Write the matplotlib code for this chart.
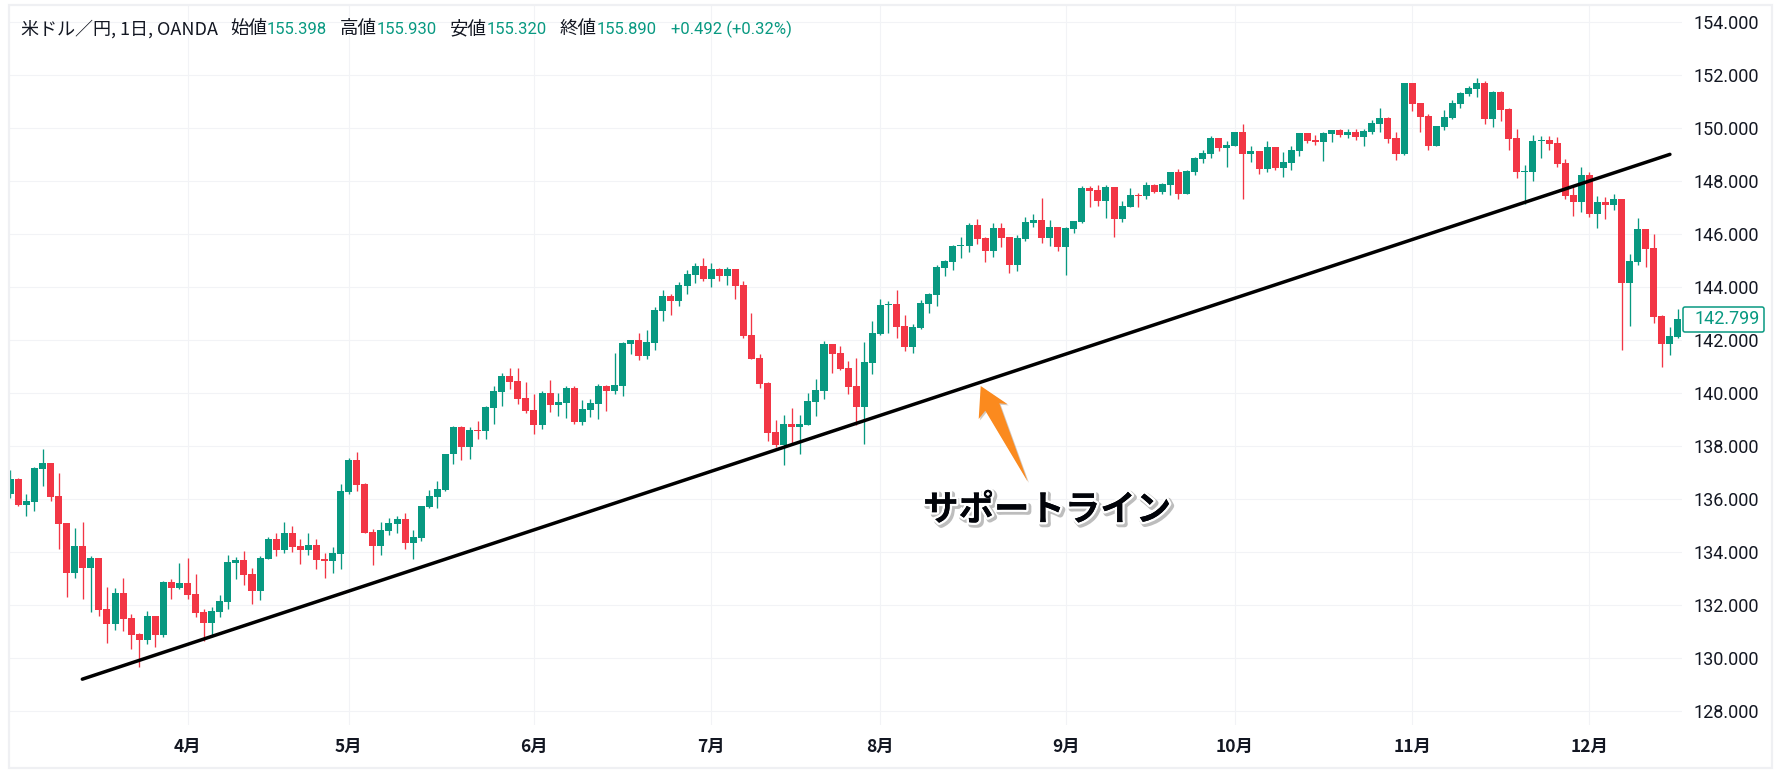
import matplotlib
matplotlib.use('Agg')
import matplotlib.pyplot as plt
import matplotlib.patheffects as pe
from matplotlib.patches import Polygon, Rectangle, FancyBboxPatch

W, H = 1778, 773

# candle values
opens = [136.20, 136.77, 135.79, 135.90, 137.14, 137.37, 136.13, 135.11, 133.22, 134.24,
         133.41, 133.79, 131.86, 131.30, 132.47, 131.52, 130.92, 130.69, 131.60, 130.88,
         132.88, 132.65, 132.84, 132.43, 131.75, 131.33, 131.75, 132.13, 133.60, 133.71,
         133.18, 132.54, 133.75, 134.50, 134.09, 134.73, 134.24, 134.09, 134.28, 133.75,
         133.67, 133.94, 136.28, 137.48, 136.58, 134.77, 134.24, 134.81, 135.07, 135.26,
         134.35, 134.54, 135.71, 136.09, 136.35,
         137.72, 138.74, 137.99, 138.63, 138.59, 139.46, 140.06, 140.67, 140.48, 139.84,
         139.38, 138.82, 140.03, 139.57, 139.65, 140.21, 138.93, 139.38, 139.61, 140.29,
         140.10, 140.29, 141.87, 142.03, 141.42, 141.91, 143.12, 143.69, 143.50, 144.06,
         144.48, 144.82, 144.33, 144.70, 144.44, 144.70, 144.10, 142.21, 141.35, 140.40,
         138.55, 138.06, 138.86, 138.74, 138.82, 139.69, 140.10, 141.87, 141.53, 140.97,
         140.29, 139.50, 141.16,
         142.24, 143.33, 143.37, 142.54, 141.75, 142.47, 143.37, 143.71, 144.73, 144.96,
         145.56, 145.56, 146.35, 145.86, 145.37, 146.24, 145.90, 144.84, 145.82, 146.43,
         146.54, 145.86, 146.28, 145.52, 146.20, 146.47, 147.75, 147.67, 147.26, 147.79,
         146.58, 147.03, 147.48, 147.45, 147.86, 147.60, 147.86, 148.35, 147.52, 148.35,
         148.84, 149.03, 149.64, 149.26, 149.33, 149.86, 149.03, 149.14, 148.47, 149.30,
         148.50, 148.69, 149.14, 149.82, 149.56,
         149.48, 149.79, 149.94, 149.75, 149.86, 149.67, 149.86, 150.16, 150.39, 149.64,
         149.03, 151.71, 150.96, 150.47, 149.33, 150.05, 150.39, 150.92, 151.30, 151.48,
         151.71, 150.35, 151.37, 150.73, 149.64, 148.35, 148.35, 149.52, 149.56, 149.45,
         148.69, 147.48, 147.22, 148.24, 146.77, 147.22, 147.11, 147.33, 144.16, 144.96,
         146.20, 145.48, 142.92, 141.86, 142.13]
highs = [137.11, 136.80, 136.20, 137.22, 137.90, 137.37, 136.99, 135.11, 134.92, 135.14,
         133.86, 133.79, 132.69, 132.65, 133.03, 131.67, 130.96, 131.79, 131.60, 132.92,
         133.00, 133.60, 133.79, 133.18, 131.86, 131.94, 132.39, 133.90, 133.82, 134.04,
         133.41, 133.86, 134.58, 134.73, 135.14, 134.99, 134.50, 134.73, 134.50, 133.97,
         134.20, 136.58, 137.56, 137.79, 136.62, 134.88, 135.14, 135.30, 135.37, 135.48,
         134.84, 135.75, 136.35, 136.69, 137.71,
         138.78, 138.78, 138.74, 138.97, 139.53, 140.29, 140.78, 140.97, 140.97, 140.44,
         139.99, 140.10, 140.52, 140.03, 140.29, 140.29, 139.76, 139.80, 140.36, 140.33,
         141.53, 141.95, 142.03, 142.29, 142.40, 143.27, 143.91, 143.76, 144.21, 144.67,
         144.93, 145.12, 144.93, 144.74, 144.78, 144.70, 144.25, 143.04, 141.50, 140.44,
         139.01, 139.19, 139.46, 139.19, 140.03, 140.55, 141.99, 141.87, 141.80, 141.23,
         141.35, 141.95, 142.74,
         143.56, 143.48, 143.89, 142.96, 142.62, 143.52, 143.78, 144.84, 145.03, 145.60,
         145.90, 146.43, 146.58, 145.90, 146.43, 146.43, 145.90, 145.97, 146.65, 146.77,
         147.37, 146.54, 146.28, 146.28, 146.50, 147.82, 147.82, 147.86, 147.86, 147.79,
         147.26, 147.75, 147.56, 147.97, 147.90, 147.94, 148.35, 148.47, 148.43, 148.92,
         149.18, 149.71, 149.64, 149.52, 149.86, 150.16, 149.33, 149.14, 149.52, 149.30,
         149.11, 149.33, 149.82, 149.82, 149.75,
         149.86, 149.94, 149.97, 149.97, 149.97, 149.97, 150.31, 150.77, 150.43, 149.86,
         151.71, 151.71, 150.96, 150.54, 150.09, 150.69, 151.07, 151.37, 151.60, 151.90,
         151.79, 151.41, 151.41, 150.77, 149.97, 148.62, 149.75, 149.71, 149.71, 149.67,
         148.84, 147.86, 148.54, 148.35, 147.45, 147.41, 147.52, 147.33, 145.26, 146.62,
         146.20, 146.01, 142.96, 142.50, 143.18]
lows = [136.05, 135.75, 135.37, 135.56, 136.50, 135.94, 134.13, 132.31, 133.03, 132.24,
        131.75, 131.60, 130.58, 131.07, 131.03, 130.35, 129.67, 130.54, 130.43, 130.81,
        132.24, 132.62, 132.24, 131.56, 130.65, 130.81, 131.56, 131.86, 133.00, 132.77,
        132.05, 132.20, 133.75, 133.86, 133.97, 134.01, 133.56, 133.90, 133.37, 133.03,
        133.22, 133.37, 136.20, 136.31, 134.73, 133.52, 133.90, 134.65, 134.73, 134.13,
        133.75, 134.43, 135.67, 135.67, 136.31,
        137.35, 137.50, 137.53, 138.29, 138.29, 138.86, 139.53, 140.18, 139.61, 139.27,
        138.48, 138.67, 139.31, 139.16, 139.08, 138.86, 138.82, 139.12, 139.04, 139.35,
        139.99, 139.91, 141.50, 141.27, 141.31, 141.65, 142.74, 142.97, 143.31, 143.76,
        144.18, 144.25, 144.03, 144.25, 144.10, 143.57, 142.10, 141.31, 140.21, 138.21,
        137.99, 137.31, 138.06, 137.72, 138.82, 139.16, 139.80, 140.78, 140.89, 139.99,
        138.82, 138.10, 140.74,
        142.22, 142.28, 142.08, 141.60, 141.52, 142.43, 143.03, 143.30, 144.43, 144.65,
        145.11, 145.33, 145.64, 144.96, 145.14, 145.52, 144.54, 144.62, 145.75, 146.28,
        145.67, 145.56, 145.37, 144.47, 146.05, 146.43, 147.03, 147.07, 146.62, 145.90,
        146.47, 147.03, 147.03, 147.33, 147.56, 147.52, 147.48, 147.33, 147.52, 148.24,
        148.69, 148.88, 149.14, 148.54, 149.33, 147.33, 148.73, 148.28, 148.35, 148.43,
        148.16, 148.43, 148.96, 149.45, 149.37,
        148.77, 149.48, 149.67, 149.64, 149.56, 149.33, 149.79, 149.86, 149.45, 148.81,
        148.99, 150.65, 149.86, 149.18, 149.33, 149.94, 150.35, 150.77, 151.22, 151.18,
        150.16, 150.05, 150.28, 149.18, 148.13, 147.14, 148.01, 148.88, 149.18, 148.54,
        147.33, 146.69, 146.84, 146.65, 146.24, 146.58, 146.92, 141.64, 142.54, 144.84,
        144.77, 142.65, 140.99, 141.45, 142.09]
closes = [136.77, 135.79, 135.94, 137.18, 137.37, 136.09, 135.07, 133.22, 134.24, 133.41,
          133.79, 131.82, 131.30, 132.47, 131.48, 130.88, 130.69, 131.60, 130.88, 132.88,
          132.65, 132.84, 132.39, 131.71, 131.33, 131.79, 132.16, 133.64, 133.71, 133.14,
          132.54, 133.79, 134.50, 134.09, 134.73, 134.20, 134.09, 134.28, 133.71, 133.67,
          133.97, 136.31, 137.48, 136.54, 134.73, 134.24, 134.84, 135.11, 135.26, 134.35,
          134.58, 135.75, 136.13, 136.39, 137.71,
          138.74, 137.99, 138.63, 138.59, 139.50, 140.10, 140.67, 140.44, 139.80, 139.35,
          138.82, 140.03, 139.57, 139.69, 140.21, 138.93, 139.42, 139.65, 140.29, 140.10,
          140.33, 141.91, 142.03, 141.42, 141.95, 143.16, 143.69, 143.50, 144.10, 144.52,
          144.82, 144.33, 144.70, 144.44, 144.70, 144.06, 142.18, 141.31, 140.36, 138.52,
          138.06, 138.86, 138.74, 138.86, 139.72, 140.14, 141.87, 141.50, 140.93, 140.25,
          139.50, 141.19, 142.29,
          143.33, 143.37, 142.50, 141.75, 142.50, 143.41, 143.75, 144.77, 144.99, 145.56,
          145.60, 146.35, 145.82, 145.37, 146.24, 145.86, 144.84, 145.86, 146.47, 146.54,
          145.86, 146.28, 145.52, 146.24, 146.50, 147.75, 147.64, 147.26, 147.79, 146.58,
          147.07, 147.48, 147.45, 147.86, 147.60, 147.90, 148.35, 147.52, 148.39, 148.88,
          149.07, 149.64, 149.26, 149.37, 149.86, 149.03, 149.14, 148.47, 149.30, 148.50,
          148.73, 149.18, 149.82, 149.52, 149.48,
          149.82, 149.94, 149.75, 149.86, 149.67, 149.90, 150.20, 150.39, 149.60, 149.03,
          151.71, 150.92, 150.43, 149.33, 150.09, 150.43, 150.96, 151.33, 151.52, 151.71,
          150.35, 151.37, 150.69, 149.60, 148.35, 148.39, 149.52, 149.56, 149.41, 148.65,
          147.45, 147.22, 148.24, 146.77, 147.22, 147.11, 147.33, 144.16, 144.99, 146.20,
          145.45, 142.88, 141.86, 142.16, 142.81]

month_pos = [22, 42, 65, 87, 108, 131, 152, 174, 196]
month_labels = ['4月', '5月', '6月', '7月', '8月', '9月', '10月', '11月', '12月']
price_ticks = [128, 130, 132, 134, 136, 138, 140, 142, 144, 146, 148, 150, 152, 154]
support_x = [8.94, 206.0]
support_y = [129.21, 149.02]
last_price = 142.799

GREEN = '#089981'
RED = '#F23645'
GRID = '#F2F3F6'
FRAME = '#EFF0F3'
TEXT = '#131722'
ORANGE = '#FB8A1E'
CJK = ['Noto Sans CJK JP', 'DejaVu Sans']
NUM = ['Roboto', 'Noto Sans CJK JP']

plt.rcParams['font.family'] = CJK


def px(x, y):
    """pixel position (top left origin) to figure fraction"""
    return x / W, 1 - y / H


fig = plt.figure(figsize=(W / 100, H / 100), dpi=100, facecolor='white')
left, right, top, bottom = 9.5, 1682, 6, 725
ax = fig.add_axes([left / W, 1 - bottom / H, (right - left) / W, (bottom - top) / H])

# outer frame of the widget
fig.add_artist(Rectangle(px(8.5, 768), 1763.5 / W, 763 / H, transform=fig.transFigure,
                         facecolor='none', edgecolor=FRAME, linewidth=1.6))

# candles
for i in range(len(opens)):
    color = GREEN if closes[i] >= opens[i] else RED
    ax.vlines(i, lows[i], highs[i], color=color, linewidth=0.95, zorder=3)
    ax.bar(i, abs(closes[i] - opens[i]), bottom=min(opens[i], closes[i]), width=0.87,
           color=color, linewidth=0, zorder=3)

ax.plot(support_x, support_y, color='black', linewidth=2.5, solid_capstyle='round', zorder=4)

ax.set_xlim(-0.1, 207.5)
ax.set_ylim(127.48, 154.62)
for s in ax.spines.values():
    s.set_visible(False)
ax.set_xticks(month_pos)
ax.set_xticklabels(month_labels, fontsize=12.5, fontweight='bold', color=TEXT)
ax.yaxis.tick_right()
ax.set_yticks(price_ticks)
ax.set_yticklabels([f'{p:.3f}' for p in price_ticks], fontsize=13, color=TEXT, family=NUM)
ax.tick_params(axis='x', length=0, pad=9)
ax.tick_params(axis='y', length=0, pad=8.5)
ax.grid(True, color=GRID, linewidth=0.8, zorder=0)
ax.set_axisbelow(True)

# last price tag
fig.add_artist(FancyBboxPatch((1683, H - 332), 81, 25, boxstyle='round,pad=0,rounding_size=2',
                              transform=None, facecolor='white', edgecolor=GREEN, linewidth=1.1))
fig.text(*px(1694, 319.5), f'{last_price:.3f}', color=GREEN, fontsize=13, family=NUM,
         va='center', ha='left')

# header line
header = [(21, '米ドル／円, 1日, OANDA', TEXT, 13), (230, '始値', TEXT, 13.3), (267, '155.398', GREEN, 12),
          (340, '高値', TEXT, 13.3), (377, '155.930', GREEN, 12), (450, '安値', TEXT, 13.3),
          (487, '155.320', GREEN, 12), (560, '終値', TEXT, 13.3), (597, '155.890', GREEN, 12),
          (671, '+0.492 (+0.32%)', GREEN, 12)]
for hx, s, c, size in header:
    fam = NUM if c == GREEN else CJK
    fig.text(*px(hx, 29), s, color=c, fontsize=size, family=fam, va='center', ha='left')

# arrow and callout
arrow = [(980.7, 386), (1007.3, 404), (999.3, 403.3), (1027.7, 481.7), (985.3, 410.7), (978.7, 419)]
fig.add_artist(Polygon([px(a, b) for a, b in arrow], closed=True, transform=fig.transFigure,
                       facecolor=ORANGE, edgecolor='none', zorder=5,
                       path_effects=[pe.SimplePatchShadow(offset=(1, -1), alpha=0.25), pe.Normal()]))
fig.text(*px(1047, 510), 'サポートライン', color='#02040A', fontsize=25.5, fontweight='bold',
         ha='center', va='center', zorder=6,
         path_effects=[pe.Stroke(linewidth=4.5, foreground='#BDBDBD', offset=(1.5, -1.5)),
                       pe.withStroke(linewidth=3.5, foreground='white'), pe.Normal()])

fig.savefig('out.png', dpi=100)
